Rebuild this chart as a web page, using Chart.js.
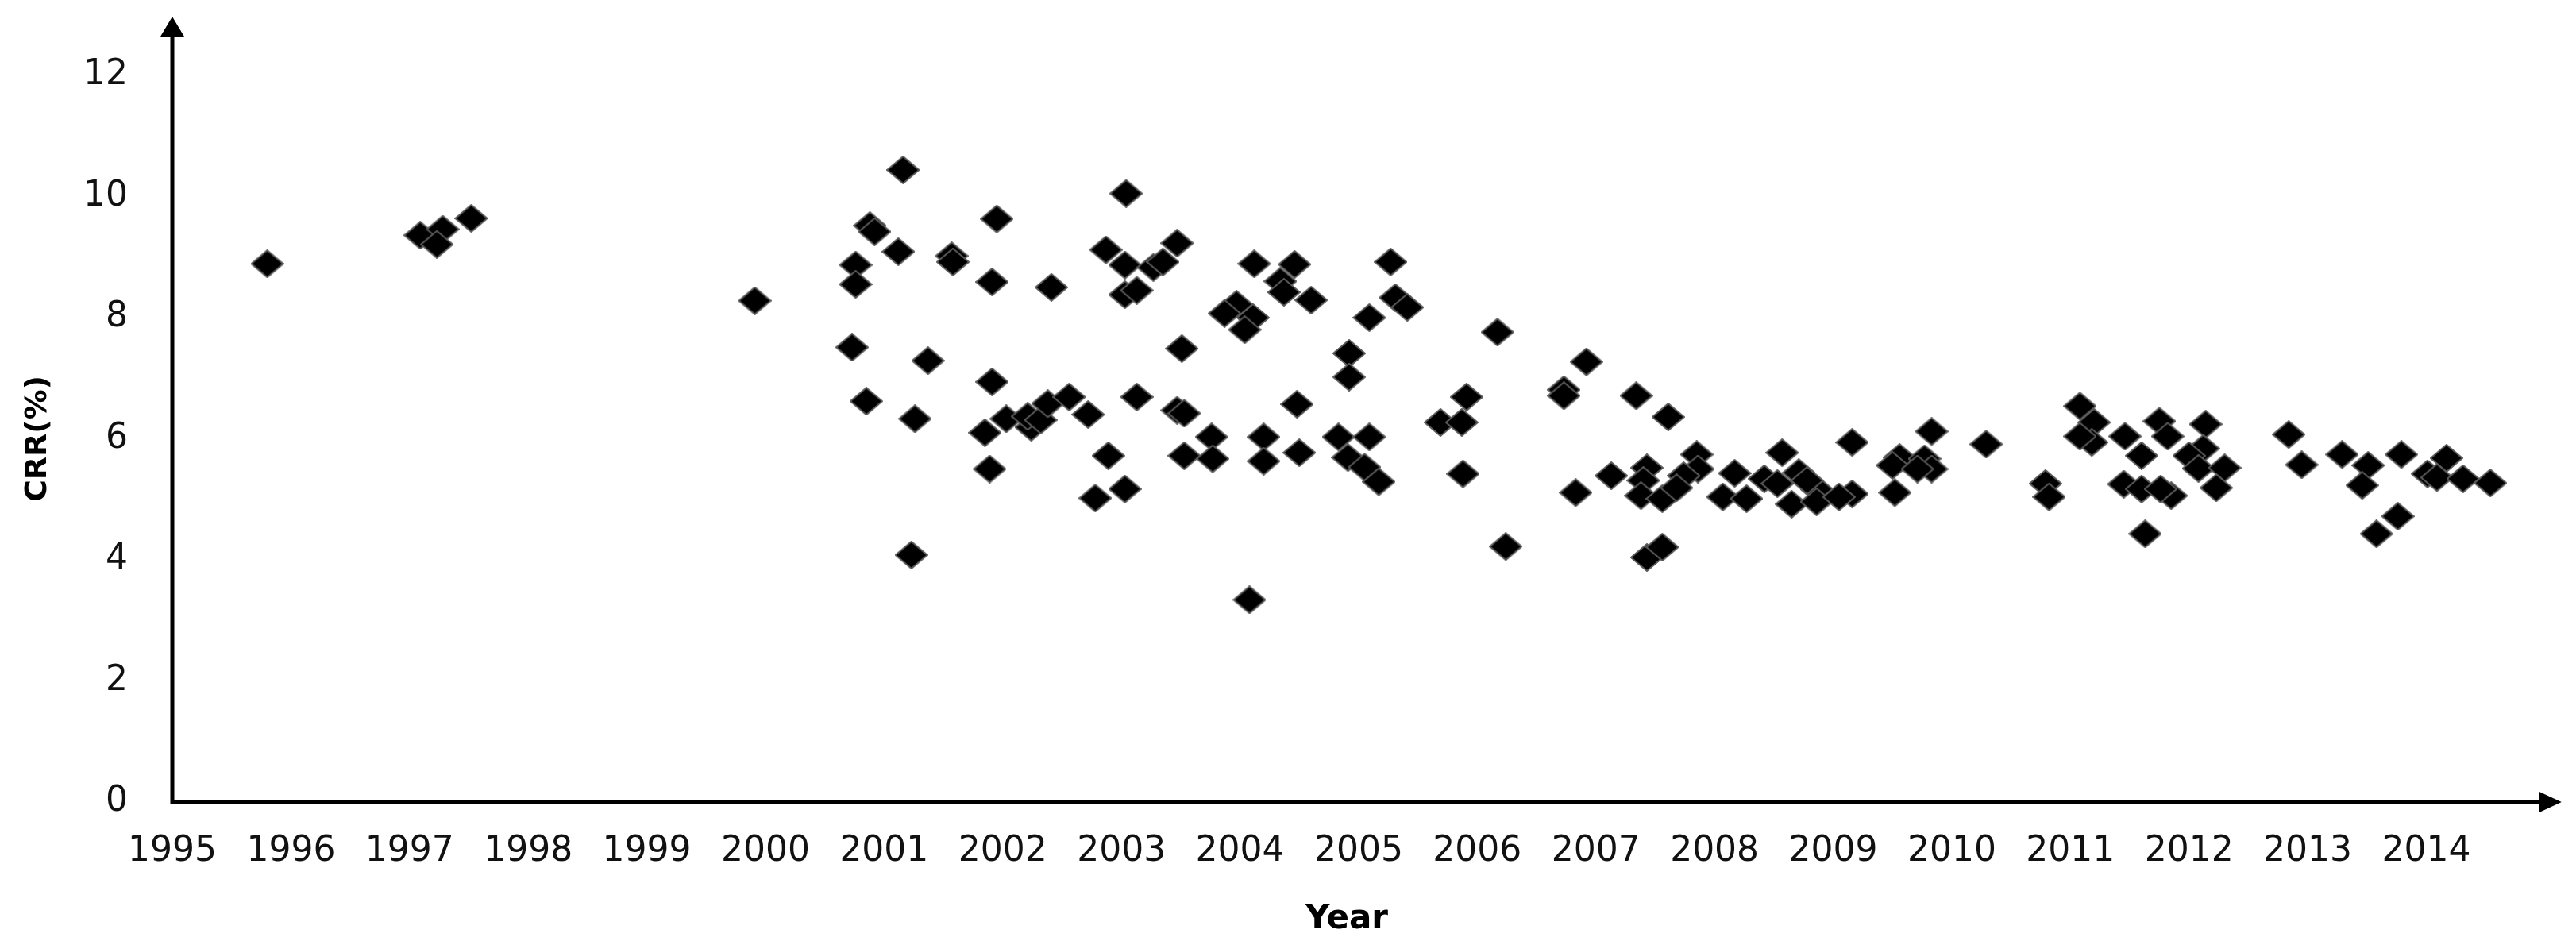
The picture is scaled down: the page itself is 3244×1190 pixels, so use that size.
<!DOCTYPE html>
<html>
<head>
<meta charset="utf-8">
<title>CRR(%) by year</title>
<script src="https://cdn.jsdelivr.net/npm/chart.js@4.4.1/dist/chart.umd.min.js"></script>
<style>
  html, body { margin: 0; padding: 0; background: #fff; }
  #wrap { width: 3244px; height: 1190px; }
</style>
</head>
<body>
<div id="wrap"><canvas id="chart" width="3244" height="1190"></canvas></div>
<script>
const years = [
  1995.80, 1997.09, 1997.28, 1997.23, 1997.52, 1999.91, 2001.16, 2000.88, 2000.92, 2001.12,
  2000.76, 2000.76, 2001.57, 2001.58, 2001.95, 2001.91, 2002.41, 2003.04, 2002.87, 2003.03,
  2003.27, 2003.35, 2003.47, 2003.03, 2003.13, 2000.73, 2001.37, 2000.85, 2001.91, 2001.26,
  2001.85, 2002.03, 2002.24, 2002.21, 2002.32, 2002.38, 2002.56, 2002.72, 2001.89, 2002.89,
  2002.78, 2003.03, 2003.13, 2001.23, 2003.51, 2003.47, 2003.53, 2003.53, 2004.12, 2004.46,
  2004.34, 2004.37, 2004.60, 2005.27, 2005.31, 2005.41, 2005.09, 2003.97, 2003.87, 2004.11,
  2004.04, 2004.92, 2004.92, 2006.17, 2006.92, 2006.73, 2006.73, 2007.34, 2007.61, 2005.91,
  2005.69, 2005.87, 2004.48, 2003.76, 2003.77, 2004.20, 2004.20, 2004.50, 2004.83, 2005.09,
  2004.91, 2005.05, 2005.17, 2005.88, 2004.08, 2006.24, 2006.83, 2007.13, 2007.43, 2007.40,
  2007.38, 2007.56, 2007.43, 2007.56, 2007.85, 2007.86, 2007.74, 2007.68, 2008.17, 2008.07,
  2008.27, 2008.57, 2008.42, 2008.53, 2008.71, 2008.65, 2008.86, 2008.86, 2008.78, 2009.16,
  2009.16, 2009.05, 2009.52, 2009.56, 2009.50, 2009.77, 2009.83, 2009.71, 2009.83, 2010.29,
  2010.79, 2010.82, 2011.08, 2011.20, 2011.18, 2011.08, 2011.46, 2011.45, 2011.60, 2011.60,
  2011.63, 2011.75, 2011.82, 2011.85, 2011.76, 2012.14, 2012.12, 2012.00, 2012.08, 2012.30,
  2012.23, 2012.84, 2012.95, 2013.29, 2013.51, 2013.46, 2013.79, 2013.76, 2013.58, 2014.17,
  2014.01, 2014.09, 2014.31, 2014.54
];

// CRR in percent, same order as years
const crr = [
  8.89, 9.36, 9.46, 9.21, 9.64, 8.28, 10.44, 9.52, 9.42, 9.09,
  8.87, 8.55, 9.02, 8.92, 9.63, 8.59, 8.50, 10.05, 9.12, 8.87,
  8.83, 8.92, 9.23, 8.38, 8.45, 7.51, 7.29, 6.62, 6.94, 6.33,
  6.10, 6.33, 6.19, 6.37, 6.31, 6.58, 6.69, 6.40, 5.50, 5.72,
  5.02, 5.17, 6.69, 4.08, 7.49, 6.47, 6.42, 5.72, 8.89, 8.88,
  8.60, 8.42, 8.29, 8.92, 8.33, 8.17, 8.00, 8.22, 8.07, 8.00,
  7.80, 7.41, 7.02, 7.76, 7.27, 6.81, 6.71, 6.71, 6.36, 6.69,
  6.27, 6.27, 6.57, 6.03, 5.67, 6.03, 5.63, 5.77, 6.03, 6.03,
  5.69, 5.53, 5.29, 5.42, 3.34, 4.22, 5.11, 5.39, 5.52, 5.31,
  5.06, 5.01, 4.04, 4.21, 5.74, 5.50, 5.39, 5.19, 5.43, 5.04,
  5.01, 5.77, 5.34, 5.26, 5.44, 4.92, 5.17, 4.96, 5.31, 5.94,
  5.09, 5.04, 5.11, 5.69, 5.56, 5.67, 5.50, 5.50, 6.12, 5.91,
  5.26, 5.04, 6.54, 6.27, 5.94, 6.04, 6.04, 5.25, 5.72, 5.17,
  4.43, 6.29, 6.04, 5.06, 5.17, 6.24, 5.84, 5.72, 5.51, 5.52,
  5.19, 6.07, 5.57, 5.74, 5.56, 5.23, 5.74, 4.72, 4.43, 5.68,
  5.42, 5.36, 5.34, 5.27
];

// axis ranges
const xMin = 1995, xMax = 2014.8, xArrow = 2015.14;
const yMin = 0, yMax = 12, yStep = 2, yArrow = 12.97;

const points = years.map((yr, i) => ({x: yr, y: crr[i]}));

// black diamond marker, a bit wider than tall
function diamond(w, h) {
  const c = document.createElement('canvas');
  c.width = w + 2;
  c.height = h + 2;
  const g = c.getContext('2d');
  g.beginPath();
  g.moveTo(c.width / 2, 1);
  g.lineTo(c.width - 1, c.height / 2);
  g.lineTo(c.width / 2, c.height - 1);
  g.lineTo(1, c.height / 2);
  g.closePath();
  g.fillStyle = '#000';
  g.fill();
  g.strokeStyle = '#5a5a5a';
  g.lineWidth = 2;
  g.stroke();
  return c;
}

// axis lines with arrow heads, like the original
const arrowAxes = {
  id: 'arrowAxes',
  beforeDatasetsDraw(chart) {
    const {ctx, scales: {x, y}} = chart;
    const x0 = x.getPixelForValue(xMin);
    const y0 = y.getPixelForValue(yMin);
    const xEnd = x.getPixelForValue(xArrow);
    const yEnd = y.getPixelForValue(yArrow);
    ctx.save();
    ctx.strokeStyle = '#000';
    ctx.fillStyle = '#000';
    ctx.lineWidth = 5;
    ctx.beginPath();
    ctx.moveTo(x0, y0 + 2.5);
    ctx.lineTo(x0, yEnd + 20);
    ctx.moveTo(x0 - 2.5, y0);
    ctx.lineTo(xEnd - 20, y0);
    ctx.stroke();
    ctx.beginPath();
    ctx.moveTo(x0, yEnd);
    ctx.lineTo(x0 - 15, yEnd + 25);
    ctx.lineTo(x0 + 15, yEnd + 25);
    ctx.closePath();
    ctx.moveTo(xEnd, y0);
    ctx.lineTo(xEnd - 28, y0 - 13);
    ctx.lineTo(xEnd - 28, y0 + 13);
    ctx.closePath();
    ctx.fill();
    ctx.restore();
  }
};

const tickFont = {family: '"DejaVu Sans", Verdana, sans-serif', size: 44};

new Chart(document.getElementById('chart'), {
  type: 'scatter',
  data: {
    datasets: [{
      label: 'CRR(%)',
      data: points,
      pointStyle: diamond(40, 34),
      pointRadius: 20,
      pointHoverRadius: 20
    }]
  },
  options: {
    responsive: false,
    animation: false,
    layout: {padding: {top: 95, right: 69, bottom: 0, left: 0}},
    plugins: {legend: {display: false}, tooltip: {enabled: false}},
    scales: {
      x: {
        type: 'linear',
        min: xMin,
        max: xMax,
        grid: {display: false, drawTicks: false},
        border: {display: false},
        ticks: {
          stepSize: 1,
          includeBounds: false,
          autoSkip: false,
          maxRotation: 0,
          padding: 36,
          color: '#111',
          font: tickFont,
          callback: v => String(v)
        },
        title: {
          display: true,
          text: 'Year',
          color: '#000',
          padding: {top: 7, bottom: 7},
          font: {family: '"DejaVu Sans", Verdana, sans-serif', size: 42, weight: 'bold'}
        },
        afterFit(scale) { scale.height = 180; }
      },
      y: {
        min: yMin,
        max: yMax,
        grid: {display: false, drawTicks: false},
        border: {display: false},
        ticks: {
          stepSize: yStep,
          padding: 56,
          color: '#111',
          font: tickFont
        },
        title: {
          display: true,
          text: 'CRR(%)',
          color: '#000',
          padding: {top: 25, bottom: 25},
          font: {family: '"DejaVu Sans", Verdana, sans-serif', size: 38, weight: 'bold'}
        },
        afterFit(scale) { scale.width = 217; }
      }
    }
  },
  plugins: [arrowAxes]
});
</script>
</body>
</html>
